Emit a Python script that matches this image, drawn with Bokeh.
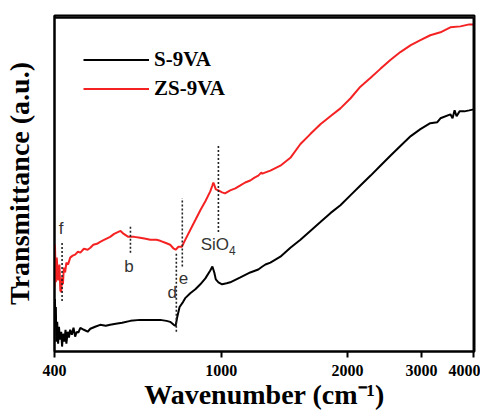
from bokeh.plotting import figure
from bokeh.models import Legend, LegendItem, FixedTicker, Range1d
from bokeh.core.properties import value
from bokeh.embed import file_html
from bokeh.resources import INLINE

# ---- data (wavenumber in cm^-1, transmittance in arbitrary units) ----
red_w = [400, 401, 403, 405, 408, 411, 413, 415, 417, 419, 421, 424, 427, 431, 436, 442, 448, 455, 461,
         470, 480, 487, 495, 505, 514, 525, 543, 555, 568, 575, 585, 600, 620, 640, 660, 677, 700, 715,
         735, 755, 770, 778, 790, 805, 820, 843, 867, 891, 916, 941, 952, 957, 963, 970, 984, 1004, 1020,
         1050, 1080, 1110, 1140, 1172, 1200, 1225, 1245, 1253, 1270, 1309, 1383, 1461, 1544, 1630, 1723,
         1820, 1923, 2031, 2146, 2270, 2395, 2530, 2673, 2830, 2984, 3150, 3331, 3518, 3717, 3900, 4000]
red_t = [65, 108, 70, 95, 72, 88, 62, 60, 75, 68, 85, 80, 90, 88, 95, 97, 98, 101, 100,
         104, 103, 105, 108, 109, 111, 113, 116, 119, 121, 122, 119, 116, 116, 115, 114, 113, 113, 112,
         110, 108, 104, 103, 106, 106, 113, 123, 133, 143, 152, 162, 168, 171, 168, 164, 163, 161, 160,
         163, 165, 168, 171, 173, 176, 178, 181, 180, 181, 183, 188, 196, 210, 220, 230,
         238, 246, 256, 268, 277, 286, 295, 303, 310, 315, 320, 323, 328, 329, 331, 331]

black_w = [400, 401, 402, 403, 404, 406, 408, 410, 412, 415, 417, 419, 422, 425, 427, 430, 433, 436, 440,
           444, 448, 452, 456, 461, 470, 480, 487, 500, 514, 530, 543, 560, 580, 607, 640, 677, 715, 740,
           755, 770, 778, 785, 795, 810, 820, 843, 867, 891, 916, 941, 952, 962, 970, 984, 1004, 1030, 1050,
           1110, 1172, 1225, 1253, 1274, 1309, 1383, 1461, 1544, 1630, 1723, 1820, 1923, 2031, 2146, 2270,
           2395, 2530, 2673, 2830, 2984, 3150, 3274, 3331, 3518, 3560, 3600, 3640, 3700, 3800, 3900, 4000]
black_t = [40, 53, 25, 45, 10, 30, 8, 25, 12, 20, 5, 18, 10, 22, 8, 20, 14, 22, 17,
           24, 15, 20, 19, 24, 22, 20, 23, 25, 27, 26, 27, 28, 29, 31, 32, 32, 32, 31,
           30, 27, 26, 35, 45, 50, 54, 59, 63, 68, 74, 82, 86, 80, 73, 70, 68, 69, 70,
           75, 80, 83, 86, 88, 90, 96, 105, 113, 122, 131, 140, 148, 158, 168, 178,
           188, 198, 208, 218, 225, 231, 232, 236, 240, 236, 244, 238, 243, 243, 244, 245]

# band markers: position, dotted-line extent, label and label position
band_w = [417, 607, 781, 807, 984]
band_lo = [51, 100, 20, 86, 121]
band_hi = [111, 128, 101, 155, 208]
band_lbl = ["f", "b", "d", "e", "SiO"]
lbl_w = [415, 602, 764, 812, 965]
lbl_t = [124, 86, 60, 74, 108]
sub_w = [1062]
sub_t = [102]
sub_lbl = ["4"]

x_ticks = [400, 1000, 2000, 3000, 4000]
series_names = ["S-9VA", "ZS-9VA"]
x_min, x_max = 400, 4000
y_min, y_max = 0, 338

serif = "Liberation Serif"
sans = "Liberation Sans"

p = figure(width=480, height=412, x_axis_type="log", output_backend="svg",
           toolbar_location=None, min_border_left=54, min_border_right=6,
           min_border_top=15, min_border_bottom=59)
p.x_range = Range1d(x_min, x_max * 1.004)
p.y_range = Range1d(y_min, y_max + 2)

p.grid.visible = False
p.outline_line_color = "black"
p.outline_line_width = 2
p.outline_line_alpha = 1.0
p.background_fill_color = "white"
p.border_fill_color = "white"

xa = p.below[0]
ya = p.left[0]

l_black = p.line(black_w, black_t, line_color="black", line_width=2)
l_red = p.line(red_w, red_t, line_color="#f42222", line_width=2)

# frame box lines (top and right) as plain segments along the range limits
p.segment(x0=[x_min, x_max], y0=[y_max, y_min], x1=[x_max, x_max], y1=[y_max, y_max],
          line_color="black", line_width=2.5)

# dotted band markers
p.segment(x0=band_w, y0=band_lo, x1=band_w, y1=band_hi, line_color="#222222",
          line_width=1.6, line_dash="2 2")
p.text(x=lbl_w, y=lbl_t, text=band_lbl, text_font=value(sans), text_font_size="17px",
       text_color="#333333", text_align="center", text_baseline="middle")
p.text(x=sub_w, y=sub_t, text=sub_lbl, text_font=value(sans), text_font_size="12px",
       text_color="#333333", text_align="center", text_baseline="middle")

# bottom axis
xa.ticker = FixedTicker(ticks=x_ticks, minor_ticks=[])
xa.major_label_overrides = {t: str(t) for t in x_ticks}
xa.major_label_text_font = serif
xa.major_label_text_font_style = "bold"
xa.major_label_text_font_size = "16px"
xa.major_label_text_color = "black"
xa.major_tick_in = 0
xa.major_tick_out = 6
xa.major_tick_line_width = 2
xa.axis_line_width = 2
xa.minor_tick_line_color = None
xa.axis_label = "Wavenumber (cm\u207b\u00b9)"
xa.axis_label_text_font = serif
xa.axis_label_text_font_style = "bold"
xa.axis_label_text_font_size = "28px"
xa.axis_label_text_color = "black"
xa.major_label_standoff = 7
xa.axis_label_standoff = 0

# left axis
ya.ticker = FixedTicker(ticks=[])
ya.major_tick_line_color = None
ya.minor_tick_line_color = None
ya.axis_line_width = 2
ya.major_label_text_color = None
ya.axis_label = "Transmittance (a.u.)"
ya.axis_label_text_font = serif
ya.axis_label_text_font_style = "bold"
ya.axis_label_text_font_size = "28px"
ya.axis_label_text_color = "black"
ya.axis_label_standoff = 20

legend = Legend(items=[LegendItem(label=series_names[0], renderers=[l_black]),
                       LegendItem(label=series_names[1], renderers=[l_red])],
                location=(29, 248), glyph_width=66, glyph_height=29, label_height=29,
                spacing=0, padding=0, margin=0, label_standoff=5,
                label_text_font=serif, label_text_font_style="bold",
                label_text_font_size="21px", label_text_color="black",
                border_line_color=None, background_fill_alpha=0)
p.add_layout(legend)

open("out.html", "w").write(file_html(p, INLINE))
